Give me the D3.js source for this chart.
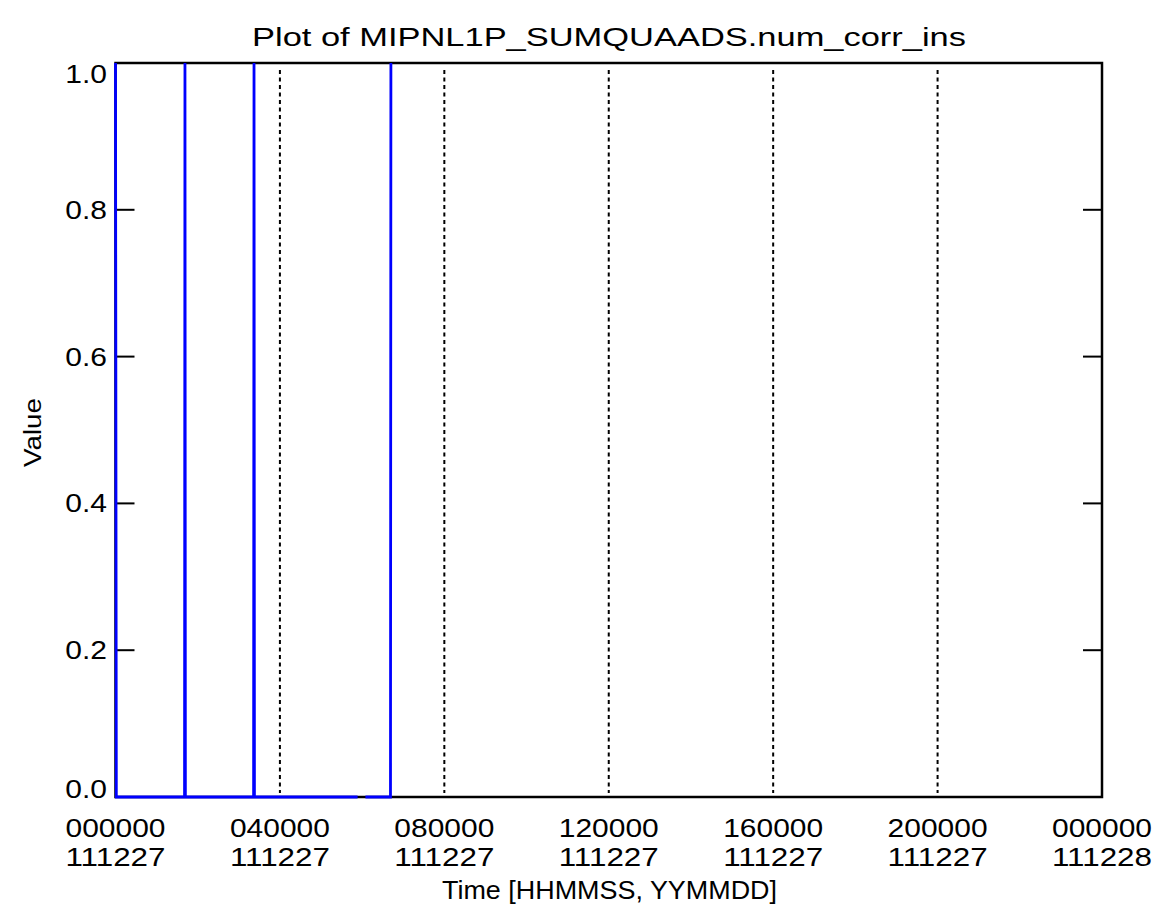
<!DOCTYPE html>
<html>
<head>
<meta charset="utf-8">
<script src="https://cdn.jsdelivr.net/npm/d3@7"></script>
<style>
  html, body { margin: 0; padding: 0; background: #fff; }
  svg { display: block; }
  text { font-family: "Liberation Sans", "DejaVu Sans", sans-serif; fill: #000; }
</style>
</head>
<body>
<svg id="chart" width="1160" height="922"></svg>
<script>
// Sample times (hours since 2011-12-27 00:00) and flag values; null marks a data gap
const timeHours = [0.00, 0.02, 1.68, 1.69, 1.70, 3.36, 3.37, 3.38, 5.89, 5.98, 6.08, 6.69, 6.70];
const flagValues = [1, 0, 0, 1, 0, 0, 1, 0, 0, null, 0, 0, 1];

// Axis ticks
const xTickHours = [0, 4, 8, 12, 16, 20, 24];
const xTickTimes = ["000000", "040000", "080000", "120000", "160000", "200000", "000000"];
const xTickDates = ["111227", "111227", "111227", "111227", "111227", "111227", "111228"];
const yTicks = [0.0, 0.2, 0.4, 0.6, 0.8, 1.0];
const yTickLabels = ["0.0", "0.2", "0.4", "0.6", "0.8", "1.0"];

const titleText = "Plot of MIPNL1P_SUMQUAADS.num_corr_ins";
const xTitleText = "Time [HHMMSS, YYMMDD]";
const yTitleText = "Value";

const frame = { left: 115.5, right: 1102, top: 63, bottom: 797 };
const svg = d3.select("#chart");

const x = d3.scaleLinear().domain([0, 24]).range([frame.left, frame.right]);
const y = d3.scaleLinear().domain([0, 1]).range([frame.bottom, frame.top]);

// Stretch a text element horizontally to a given width
function fit(sel, width) {
  sel.attr("textLength", width).attr("lengthAdjust", "spacingAndGlyphs");
}
function widen(sel, k) {
  sel.each(function () {
    const w = this.getComputedTextLength();
    d3.select(this).attr("textLength", w * k).attr("lengthAdjust", "spacingAndGlyphs");
  });
}

// Dotted vertical grid at interior time ticks
svg.append("g")
  .selectAll("line")
  .data(xTickHours.filter(h => h > 0 && h < 24))
  .join("line")
  .attr("x1", d => x(d)).attr("x2", d => x(d))
  .attr("y1", frame.top + 7).attr("y2", frame.bottom - 4)
  .attr("stroke", "#000")
  .attr("stroke-width", 2)
  .attr("stroke-dasharray", "4,3.5");

// Plot frame
svg.append("rect")
  .attr("x", frame.left).attr("y", frame.top)
  .attr("width", frame.right - frame.left)
  .attr("height", frame.bottom - frame.top)
  .attr("fill", "none")
  .attr("stroke", "#000")
  .attr("stroke-width", 2.5);

// Inward y ticks on left and right axes
const tickLen = 19;
const yTickG = svg.append("g");
yTickG.selectAll("line.l")
  .data(yTicks.filter(v => v > 0 && v < 1))
  .join("line").attr("class", "l")
  .attr("x1", frame.left).attr("x2", frame.left + tickLen)
  .attr("y1", d => y(d)).attr("y2", d => y(d))
  .attr("stroke", "#000").attr("stroke-width", 2);
yTickG.selectAll("line.r")
  .data(yTicks.filter(v => v > 0 && v < 1))
  .join("line").attr("class", "r")
  .attr("x1", frame.right - tickLen).attr("x2", frame.right)
  .attr("y1", d => y(d)).attr("y2", d => y(d))
  .attr("stroke", "#000").attr("stroke-width", 2);

// Y tick labels (kept inside the axis span at the ends)
svg.append("g")
  .selectAll("text")
  .data(yTicks)
  .join("text")
  .attr("x", 107)
  .attr("y", d => Math.min(Math.max(y(d) + 9, frame.top + 20), frame.bottom + 1))
  .attr("text-anchor", "end")
  .attr("font-size", 25)
  .text((d, i) => yTickLabels[i])
  .call(widen, 1.2);

// X tick labels: time on first row, date on second
const xLab = svg.append("g");
xLab.selectAll("text.t")
  .data(xTickHours)
  .join("text").attr("class", "t")
  .attr("x", d => x(d) - 50)
  .attr("y", 837)
  .attr("font-size", 25)
  .text((d, i) => xTickTimes[i])
  .call(fit, 100);
xLab.selectAll("text.d")
  .data(xTickHours)
  .join("text").attr("class", "d")
  .attr("x", d => x(d) - 50)
  .attr("y", 866)
  .attr("font-size", 25)
  .text((d, i) => xTickDates[i])
  .call(fit, 100);

// Axis titles and plot title
svg.append("text")
  .attr("x", 442).attr("y", 899)
  .attr("font-size", 25)
  .text(xTitleText)
  .call(fit, 335);

svg.append("text")
  .attr("transform", "translate(41,467) rotate(-90)")
  .attr("font-size", 23)
  .text(yTitleText)
  .call(fit, 69);

svg.append("text")
  .attr("x", 252).attr("y", 46)
  .attr("font-size", 25)
  .text(titleText)
  .call(fit, 714);

// Data trace
const line = d3.line()
  .defined((d, i) => flagValues[i] !== null)
  .x(d => x(d))
  .y((d, i) => y(flagValues[i]));

svg.append("path")
  .datum(timeHours)
  .attr("d", line)
  .attr("fill", "none")
  .attr("stroke", "#0000ff")
  .attr("stroke-width", 2.8);
</script>
</body>
</html>
